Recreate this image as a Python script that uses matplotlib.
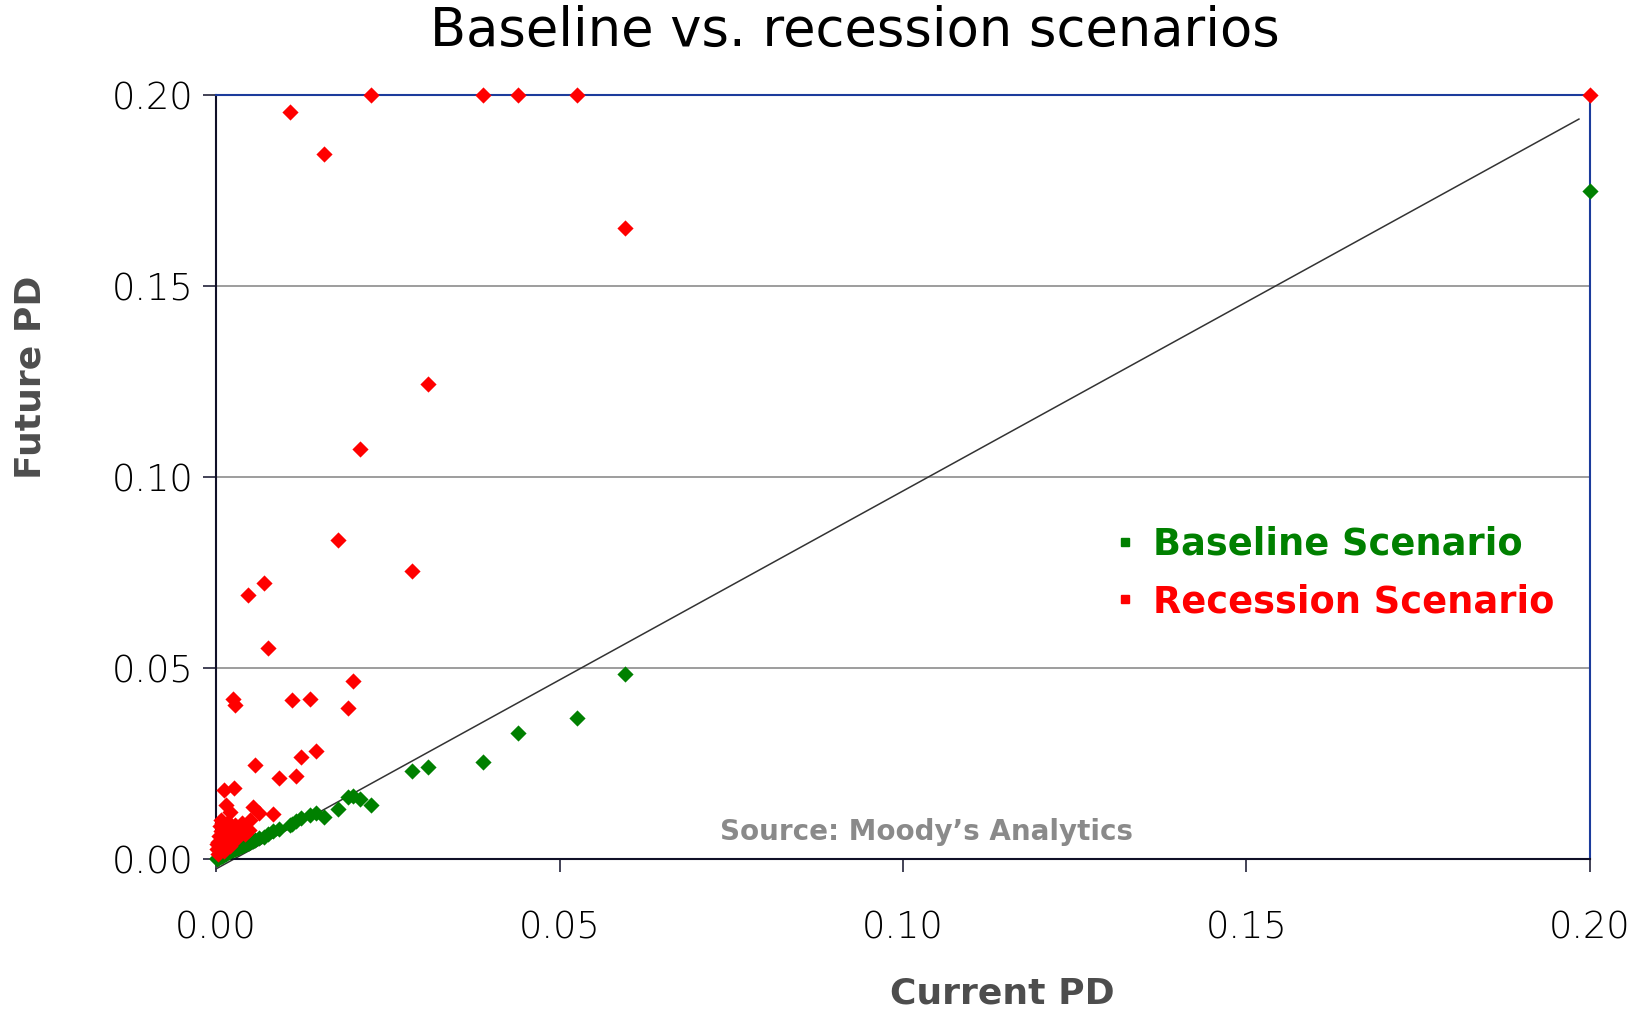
import matplotlib
matplotlib.use("Agg")
import matplotlib.pyplot as plt
from matplotlib.lines import Line2D
import numpy as np

# current PD of each name, with future PD under the two scenarios
current_pd = [0.2000, 0.0596, 0.0525, 0.0440, 0.0389, 0.0309, 0.0285, 0.0226,
              0.0210, 0.0199, 0.0192, 0.0177, 0.0157, 0.0145, 0.0137, 0.0124,
              0.0116, 0.0108, 0.0110, 0.0092, 0.0083, 0.0075, 0.0070, 0.0063,
              0.0056, 0.0054, 0.0047, 0.0027, 0.0024, 0.0026, 0.0012, 0.0014,
              0.0021, 0.0007, 0.0050, 0.0003, 0.0005, 0.0008, 0.0010, 0.0012,
              0.0015, 0.0018, 0.0020, 0.0023, 0.0028, 0.0030, 0.0033, 0.0036,
              0.0040, 0.0044, 0.0048, 0.0002, 0.0004, 0.0006, 0.0009, 0.0017,
              0.0001, 0.0011, 0.0038, 0.0042, 0.0003, 0.0007, 0.0013, 0.0019,
              0.0025, 0.0032]
baseline_pd = [0.1748, 0.0485, 0.0370, 0.0331, 0.0255, 0.0242, 0.0231, 0.0141,
               0.0156, 0.0166, 0.0161, 0.0131, 0.0111, 0.0120, 0.0115, 0.0106,
               0.0100, 0.0089, 0.0092, 0.0078, 0.0074, 0.0065, 0.0058, 0.0054,
               0.0050, 0.0047, 0.0042, 0.0027, 0.0025, 0.0026, 0.0012, 0.0014,
               0.0021, 0.0007, 0.0044, 0.0003, 0.0005, 0.0008, 0.0010, 0.0012,
               0.0015, 0.0018, 0.0020, 0.0023, 0.0027, 0.0029, 0.0031, 0.0033,
               0.0036, 0.0039, 0.0042, 0.0002, 0.0004, 0.0006, 0.0009, 0.0017,
               0.0001, 0.0011, 0.0035, 0.0038, 0.0003, 0.0007, 0.0013, 0.0019,
               0.0024, 0.0030]
recession_pd = [0.2000, 0.1652, 0.2000, 0.2000, 0.2000, 0.1243, 0.0754, 0.2000,
                0.1073, 0.0465, 0.0395, 0.0834, 0.1846, 0.0282, 0.0420, 0.0266,
                0.0217, 0.1956, 0.0417, 0.0211, 0.0117, 0.0551, 0.0722, 0.0120,
                0.0245, 0.0137, 0.0691, 0.0403, 0.0420, 0.0187, 0.0181, 0.0141,
                0.0124, 0.0102, 0.0102, 0.0012, 0.0030, 0.0050, 0.0068, 0.0040,
                0.0082, 0.0060, 0.0035, 0.0075, 0.0090, 0.0055, 0.0080, 0.0070,
                0.0085, 0.0078, 0.0075, 0.0025, 0.0060, 0.0085, 0.0095, 0.0098,
                0.0040, 0.0022, 0.0093, 0.0065, 0.0045, 0.0072, 0.0058, 0.0048,
                0.0062, 0.0068]

# trend line end points
trend_x = [0.0, 0.1984]
trend_y = [-0.0026, 0.1937]

ticks = [0.0, 0.05, 0.10, 0.15, 0.20]
tick_labels = ["0.00", "0.05", "0.10", "0.15", "0.20"]
series_names = ["Baseline Scenario", "Recession Scenario"]

plt.rcParams["font.family"] = ["DejaVu Sans"]

fig = plt.figure(figsize=(16.43, 10.14), dpi=100)
ax = fig.add_axes([0.1315, 0.1529, 0.8362, 0.7534])

ax.set_xlim(0, 0.2)
ax.set_ylim(0, 0.2)

ax.yaxis.grid(True, color="#8c8c8c", linewidth=1.2, zorder=0)
ax.set_axisbelow(True)

ax.plot(trend_x, trend_y, color="#333333", linewidth=1.1, clip_on=False, zorder=2)

ax.scatter(current_pd, baseline_pd, marker="D", s=68, color="#008000",
           linewidths=0, clip_on=False, zorder=4)
ax.scatter(current_pd, recession_pd, marker="D", s=68, color="#ff0000",
           linewidths=0, clip_on=False, zorder=4)

for side in ["left", "bottom"]:
    ax.spines[side].set_color("#101028")
    ax.spines[side].set_linewidth(1.5)
for side in ["top", "right"]:
    ax.spines[side].set_color("#1c3c9c")
    ax.spines[side].set_linewidth(1.5)

ax.set_xticks(ticks)
ax.set_xticklabels(tick_labels)
ax.set_yticks(ticks)
ax.set_yticklabels(tick_labels)
ax.tick_params(axis="both", direction="out", length=9.5, width=1.1,
               color="#101028", labelsize=26.5, labelcolor="#000000")
ax.tick_params(axis="x", pad=27)
ax.tick_params(axis="y", pad=6.5)
for lbl in ax.get_xticklabels() + ax.get_yticklabels():
    lbl.set_fontweight("light")

fig.text(855 / 1643, 1 - 31 / 1014, "Baseline vs. recession scenarios",
         ha="center", va="center", fontsize=38)
fig.text(1002 / 1643, 1 - 993 / 1014, "Current PD", ha="center", va="center",
         fontsize=26, fontweight="bold", color="#4d4d4d")
fig.text(31 / 1643, 1 - 377 / 1014, "Future PD", ha="center", va="center",
         rotation=90, fontsize=26, fontweight="bold", color="#4d4d4d")
fig.text(927 / 1643, 1 - 832 / 1014, "Source: Moody\u2019s Analytics",
         ha="center", va="center", fontsize=20, fontweight="bold", color="#8a8a8a")

handles = [Line2D([], [], linestyle="none", marker="s", markersize=5.5, color="#008000"),
           Line2D([], [], linestyle="none", marker="s", markersize=5.5, color="#ff0000")]
ax.legend(handles, series_names, loc="center left",
          bbox_to_anchor=(1114 / 1643, 1 - 573 / 1014),
          bbox_transform=fig.transFigure, frameon=False,
          handlelength=0.6, handletextpad=0.46, labelspacing=0.55,
          borderpad=0, borderaxespad=0,
          prop={"size": 26.5, "weight": "bold"},
          labelcolor=["#008000", "#ff0000"])

fig.savefig("out.png", dpi=100)
